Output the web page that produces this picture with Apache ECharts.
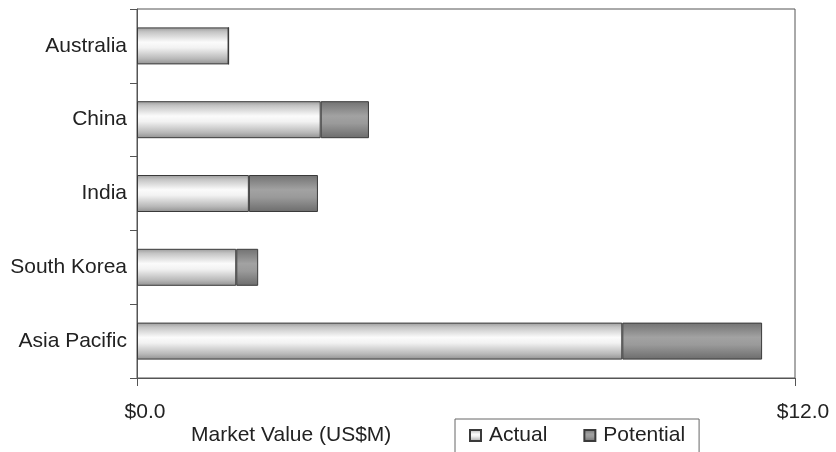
<!DOCTYPE html>
<html>
<head>
<meta charset="utf-8">
<script src="https://cdn.jsdelivr.net/npm/echarts@6/dist/echarts.min.js"></script>
<style>html,body{margin:0;padding:0;background:#fff;}#c{width:836px;height:452px;}</style>
</head>
<body>
<div id="c"></div>
<script>
const categories = ['Australia', 'China', 'India', 'South Korea', 'Asia Pacific'];
const actual = [1.67, 3.35, 2.04, 1.81, 8.85];
const potential = [0, 0.88, 1.26, 0.40, 2.55];
const xTicks = [0, 12];

const font = '"Liberation Sans", Arial, sans-serif';
const FS = 21;
const actualFill = new echarts.graphic.LinearGradient(0, 0, 0, 1, [
  {offset: 0, color: '#9a9a9a'},
  {offset: 0.12, color: '#c4c4c4'},
  {offset: 0.4, color: '#fbfbfb'},
  {offset: 0.55, color: '#f2f2f2'},
  {offset: 0.85, color: '#b8b8b8'},
  {offset: 1, color: '#909090'}
]);
const potFill = new echarts.graphic.LinearGradient(0, 0, 0, 1, [
  {offset: 0, color: '#727272'},
  {offset: 0.4, color: '#a2a2a2'},
  {offset: 0.6, color: '#9a9a9a'},
  {offset: 1, color: '#6c6c6c'}
]);

const chart = echarts.init(document.getElementById('c'));
chart.setOption({
  animation: false,
  backgroundColor: '#fff',
  textStyle: {fontFamily: font},
  grid: {left: 137, right: 41, top: 9, bottom: 74, show: true, borderColor: '#555', borderWidth: 1, backgroundColor: 'transparent'},
  title: {
    text: 'Market Value (US$M)', left: 191, top: 425, padding: 0,
    textStyle: {fontFamily: font, fontSize: FS, fontWeight: 'normal', color: '#222'}
  },
  legend: {
    data: ['Actual', 'Potential'],
    left: 455, top: 419,
    itemWidth: 11, itemHeight: 11, itemGap: 36,
    icon: 'rect',
    borderColor: '#666', borderWidth: 1,
    padding: [6, 14, 14, 14],
    textStyle: {fontFamily: font, fontSize: FS, color: '#222', padding: [0, 0, 0, 3]}
  },
  xAxis: {
    type: 'value', min: xTicks[0], max: xTicks[1], interval: 12,
    splitLine: {show: false},
    axisLine: {show: true, lineStyle: {color: '#555'}},
    axisTick: {show: true, length: 8, lineStyle: {color: '#555'}},
    axisLabel: {
      margin: 24, fontSize: FS, color: '#222', fontFamily: font,
      padding: [0, 0, 0, 16],
      formatter: v => '$' + v.toFixed(1)
    }
  },
  yAxis: {
    type: 'category', data: categories, inverse: true,
    axisLine: {show: true, lineStyle: {color: '#555'}},
    axisTick: {show: true, length: 7, alignWithLabel: false, lineStyle: {color: '#555'}},
    axisLabel: {margin: 10, fontSize: FS, color: '#222', fontFamily: font}
  },
  series: [
    {
      name: 'Actual', type: 'bar', stack: 's', data: actual, barWidth: 37,
      itemStyle: {color: actualFill, borderColor: '#3a3a3a', borderWidth: 1}
    },
    {
      name: 'Potential', type: 'bar', stack: 's', data: potential, barWidth: 37,
      itemStyle: {color: potFill, borderColor: '#3a3a3a', borderWidth: 1}
    }
  ]
});
</script>
</body>
</html>
